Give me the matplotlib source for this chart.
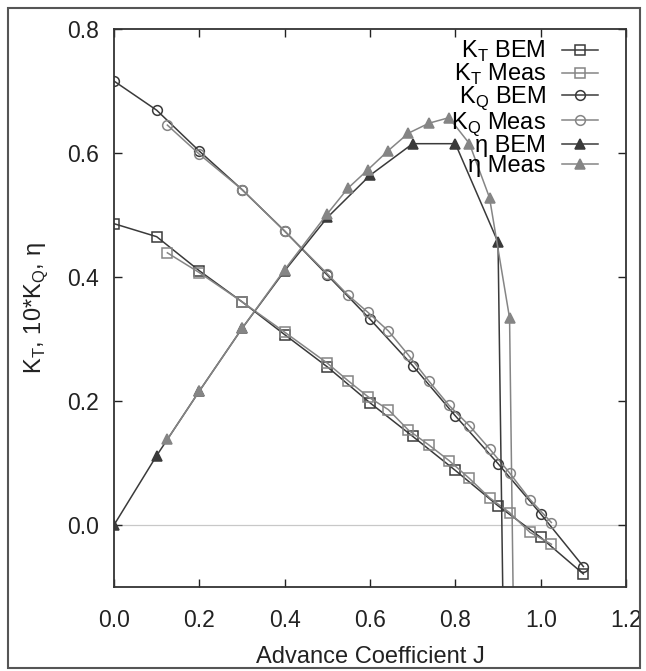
import matplotlib
matplotlib.use("Agg")
import matplotlib.pyplot as plt
from matplotlib.patches import Rectangle

plt.rcParams["font.family"] = ["Liberation Sans", "DejaVu Sans"]

# advance coefficient for the BEM runs and for the measurements
j_bem = [0.0, 0.1, 0.2, 0.3, 0.4, 0.5, 0.6, 0.7, 0.8, 0.9, 1.0, 1.1]
j_meas = [0.125, 0.2, 0.3, 0.4, 0.5, 0.548, 0.595, 0.643, 0.69, 0.738,
          0.785, 0.833, 0.88, 0.927, 0.975, 1.025]

kt_bem = [0.486, 0.465, 0.410, 0.360, 0.307, 0.255, 0.197, 0.143, 0.088,
          0.031, -0.020, -0.079]
kt_meas = [0.439, 0.407, 0.360, 0.311, 0.261, 0.233, 0.207, 0.186, 0.153,
           0.129, 0.104, 0.075, 0.044, 0.020, -0.012, -0.031]

kq_bem = [0.716, 0.669, 0.603, 0.541, 0.474, 0.403, 0.332, 0.257, 0.176,
          0.099, 0.018, -0.067]
kq_meas = [0.645, 0.598, 0.541, 0.474, 0.405, 0.371, 0.343, 0.313, 0.274,
           0.232, 0.193, 0.160, 0.123, 0.084, 0.041, 0.004]

# efficiency drops off the chart after the last visible point
j_eta_bem = [0.0, 0.1, 0.2, 0.3, 0.4, 0.5, 0.6, 0.7, 0.8, 0.9, 1.0]
eta_bem = [0.0, 0.112, 0.216, 0.317, 0.410, 0.496, 0.564, 0.615, 0.615,
           0.456, -4.6]
j_eta_meas = [0.125, 0.2, 0.3, 0.4, 0.5, 0.548, 0.595, 0.643, 0.69, 0.738,
              0.785, 0.833, 0.88, 0.927, 0.975]
eta_meas = [0.138, 0.216, 0.317, 0.412, 0.502, 0.543, 0.573, 0.604, 0.632,
            0.648, 0.657, 0.615, 0.528, 0.334, -2.2]

x_ticks = [0.0, 0.2, 0.4, 0.6, 0.8, 1.0, 1.2]
y_ticks = [0.0, 0.2, 0.4, 0.6, 0.8]

dark = "#3a3a3a"
light = "#858585"
txt = "#222222"

fig = plt.figure(figsize=(6.46, 6.71), dpi=100)
ax = fig.add_axes([0.1765, 0.1252, 0.7926, 0.8316])

# thin zero line like gnuplot's xzeroaxis
ax.axhline(0, color="#c8c8c8", lw=0.9, zorder=0)

common = dict(lw=1.1, markersize=7, markeredgewidth=1.1)
ax.plot(j_bem, kt_bem, "-s", color=dark, mfc="none", label="K$_\\mathregular{T}$ BEM", **common)
ax.plot(j_meas, kt_meas, "-s", color=light, mfc="none", label="K$_\\mathregular{T}$ Meas", **common)
ax.plot(j_bem, kq_bem, "-o", color=dark, mfc="none", label="K$_\\mathregular{Q}$ BEM", **common)
ax.plot(j_meas, kq_meas, "-o", color=light, mfc="none", label="K$_\\mathregular{Q}$ Meas", **common)
ax.plot(j_eta_bem, eta_bem, "-^", color=dark, label="η BEM", **common)
ax.plot(j_eta_meas, eta_meas, "-^", color=light, label="η Meas", **common)

ax.set_xlim(0, 1.2)
ax.set_ylim(-0.1, 0.8)
ax.set_xticks(x_ticks)
ax.set_yticks(y_ticks)
ax.set_xticklabels([f"{v:.1f}" for v in x_ticks])
ax.set_yticklabels([f"{v:.1f}" for v in y_ticks])
ax.tick_params(direction="in", top=True, right=True, length=6, width=1,
               labelsize=16.5, colors=txt)
ax.tick_params(axis="x", pad=16)
ax.tick_params(axis="y", pad=11)
for s in ax.spines.values():
    s.set_linewidth(1.3)
    s.set_color("#333333")

ax.set_xlabel("Advance Coefficient J", fontsize=17, color=txt, labelpad=10)
ax.set_ylabel("K$_\\mathregular{T}$, 10*K$_\\mathregular{Q}$, η", fontsize=17,
              color=txt, labelpad=12)

ax.legend(loc="upper right", bbox_to_anchor=(0.945, 0.982), frameon=False,
          markerfirst=False, fontsize=17, handlelength=1.5,
          labelspacing=-0.1, handletextpad=0.7, borderaxespad=0, borderpad=0)

# border around the whole figure
fig.patches.append(Rectangle((0.012, 0.005), 0.978, 0.983, transform=fig.transFigure,
                             fill=False, edgecolor="#555555", lw=1.5))

fig.savefig("out.png", dpi=100)
